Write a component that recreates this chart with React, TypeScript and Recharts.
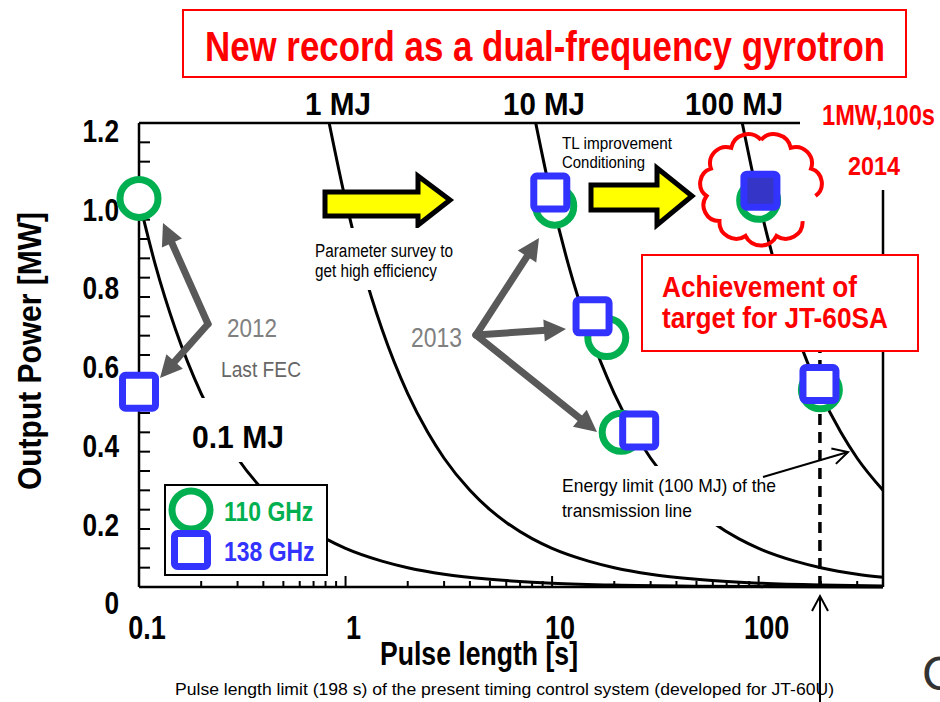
import React from "react";
import {
  ComposedChart,
  Line,
  Scatter,
  XAxis,
  YAxis,
  ReferenceLine,
  Legend,
} from "recharts";

// iso-energy lines, P [MW] against pulse length t [s]
const pulse01MJ = [0.1, 0.12, 0.15, 0.2, 0.25, 0.3, 0.4, 0.5, 0.6, 0.8, 1, 1.5, 2, 3, 5, 8, 10, 20, 50, 100, 200, 400];
const power01MJ = [1.0, 0.833, 0.667, 0.5, 0.4, 0.333, 0.25, 0.2, 0.167, 0.125, 0.1, 0.067, 0.05, 0.033, 0.02, 0.0125, 0.01, 0.005, 0.002, 0.001, 0.0005, 0.00025];

const pulse1MJ = [0.833, 1, 1.2, 1.5, 2, 2.5, 3, 4, 5, 6, 8, 10, 15, 20, 30, 50, 100, 200, 400];
const power1MJ = [1.2, 1.0, 0.833, 0.667, 0.5, 0.4, 0.333, 0.25, 0.2, 0.167, 0.125, 0.1, 0.067, 0.05, 0.033, 0.02, 0.01, 0.005, 0.0025];

const pulse10MJ = [8.33, 10, 12, 15, 20, 25, 30, 40, 50, 60, 80, 100, 150, 200, 300, 400];
const power10MJ = [1.2, 1.0, 0.833, 0.667, 0.5, 0.4, 0.333, 0.25, 0.2, 0.167, 0.125, 0.1, 0.067, 0.05, 0.033, 0.025];

const pulse100MJ = [83.3, 100, 120, 150, 200, 250, 300, 400];
const power100MJ = [1.2, 1.0, 0.833, 0.667, 0.5, 0.4, 0.333, 0.25];

// measured shots
const pulse110GHz = [0.1, 10.3, 18.4, 21.6, 100, 199];
const power110GHz = [1.005, 0.985, 0.645, 0.4, 1.0, 0.51];
const pulse138GHz = [0.1, 9.8, 15.7, 26.4, 197];
const power138GHz = [0.505, 1.02, 0.7, 0.405, 0.525];
const pulseRecord = [102];
const powerRecord = [1.025];

const pulseLimit = 198;

const pulseTicks = [0.1, 0.2, 0.3, 0.4, 0.5, 0.6, 0.7, 0.8, 0.9, 1, 2, 3, 4, 5, 6, 7, 8, 9, 10, 20, 30, 40, 50, 60, 70, 80, 90, 100, 200, 300];
const pulseLabelTicks = [0.1, 1, 10, 100];
const pulseLabels = ["0.1", "1", "10", "100"];

const powerTicks = [0, 0.05, 0.1, 0.15, 0.2, 0.25, 0.3, 0.35, 0.4, 0.45, 0.5, 0.55, 0.6, 0.65, 0.7, 0.75, 0.8, 0.85, 0.9, 0.95, 1.0, 1.05, 1.1, 1.15, 1.2];
const powerLabelTicks = [0, 0.2, 0.4, 0.6, 0.8, 1.0, 1.2];
const powerLabels = ["0", "0.2", "0.4", "0.6", "0.8", "1.0", "1.2"];

const FONT = "'Liberation Sans', Arial, sans-serif";
const GREEN = "#00b050";
const BLUE = "#3333ff";
const RED = "#ff0000";
const GRAY = "#595959";

const zip = (t: number[], p: number[]) => t.map((v, i) => ({ t: v, p: p[i] }));
const findLabel = (v: number, ticks: number[], labels: string[]) => {
  const i = ticks.findIndex((k) => Math.abs(k - v) < 1e-9);
  return i >= 0 ? labels[i] : null;
};

// squeezed Arial, to look like the Arial Narrow of the slide
const NText = ({ x, y, size, bold, fill = "#000", anchor = "start", sx = 0.82, children }: any) => (
  <text
    transform={`translate(${x},${y}) scale(${sx},1)`}
    textAnchor={anchor}
    fontFamily={FONT}
    fontWeight={bold ? "bold" : "normal"}
    fontSize={size}
    fill={fill}
  >
    {children}
  </text>
);

const BottomTick = (props: any) => {
  const { x, y, payload } = props;
  const label = findLabel(payload.value, pulseLabelTicks, pulseLabels);
  return (
    <g>
      <line x1={x} y1={y} x2={x} y2={y - (label ? 11 : 6)} stroke="#000" strokeWidth={2} />
      {label && (
        <NText x={x + 8} y={y + 52} size={33} bold anchor="middle">
          {label}
        </NText>
      )}
    </g>
  );
};

const TopTick = (props: any) => {
  const { x, y, payload } = props;
  const major = findLabel(payload.value, pulseLabelTicks, pulseLabels);
  return <line x1={x} y1={y} x2={x} y2={y + (major ? 11 : 6)} stroke="#000" strokeWidth={2} />;
};

const LeftTick = (props: any) => {
  const { x, y, payload } = props;
  const v = payload.value;
  const label = findLabel(v, powerLabelTicks, powerLabels);
  return (
    <g>
      <line x1={x} y1={y} x2={x + 11} y2={y} stroke="#000" strokeWidth={2} />
      {label && (
        <NText x={x - 20} y={y + 19 + (1.2 - v) * 7} size={32} bold anchor="end">
          {label}
        </NText>
      )}
    </g>
  );
};

const RightTick = (props: any) => {
  const { x, y } = props;
  return <line x1={x} y1={y} x2={x - 11} y2={y} stroke="#000" strokeWidth={2} />;
};

const Ring = (props: any) => {
  const { cx, cy } = props;
  return <circle cx={cx} cy={cy} r={19} fill="#fff" stroke={GREEN} strokeWidth={7} />;
};

const Box = (props: any) => {
  const { cx, cy } = props;
  return <rect x={cx - 16.5} y={cy - 16.5} width={33} height={33} rx={3} fill="#fff" stroke={BLUE} strokeWidth={7} />;
};

const FilledBox = (props: any) => {
  const { cx, cy } = props;
  return <rect x={cx - 16.5} y={cy - 16.5} width={33} height={33} rx={3} fill="#3535c8" stroke={BLUE} strokeWidth={7} />;
};

const LegendBox = (props: any) => {
  const items = (props.payload || []).filter((e: any) => e.type !== "none");
  return (
    <svg width={164} height={92} style={{ display: "block" }}>
      <rect x={1} y={1} width={162} height={90} fill="#fff" stroke="#000" strokeWidth={2} />
      {items.map((e: any, i: number) => {
        const cy = 26 + i * 40;
        return (
          <g key={e.value}>
            {i === 0 ? (
              <circle cx={27} cy={cy} r={19} fill="#fff" stroke={e.color} strokeWidth={7} />
            ) : (
              <rect x={10.5} y={cy - 16.5} width={33} height={33} rx={3} fill="#fff" stroke={e.color} strokeWidth={7} />
            )}
            <NText x={60} y={cy + 11} size={28} bold fill={e.color}>
              {e.value}
            </NText>
          </g>
        );
      })}
    </svg>
  );
};

const GrayArrow = ({ x1, y1, x2, y2 }: { x1: number; y1: number; x2: number; y2: number }) => {
  const L = Math.hypot(x2 - x1, y2 - y1);
  const ux = (x2 - x1) / L;
  const uy = (y2 - y1) / L;
  const bx = x2 - ux * 22;
  const by = y2 - uy * 22;
  const h = 11;
  return (
    <g>
      <line x1={x1} y1={y1} x2={bx + ux * 2} y2={by + uy * 2} stroke={GRAY} strokeWidth={7} strokeLinecap="round" />
      <polygon points={`${x2},${y2} ${bx - uy * h},${by + ux * h} ${bx + uy * h},${by - ux * h}`} fill={GRAY} />
    </g>
  );
};

const OpenArrow = ({ x1, y1, x2, y2 }: { x1: number; y1: number; x2: number; y2: number }) => {
  const L = Math.hypot(x2 - x1, y2 - y1);
  const ux = (x2 - x1) / L;
  const uy = (y2 - y1) / L;
  const bx = x2 - ux * 15;
  const by = y2 - uy * 15;
  const h = 8;
  return (
    <g stroke="#000" strokeWidth={2} fill="none">
      <line x1={x1} y1={y1} x2={x2} y2={y2} />
      <polyline points={`${bx - uy * h},${by + ux * h} ${x2},${y2} ${bx + uy * h},${by - ux * h}`} />
    </g>
  );
};

const cloudPath = (cx: number, cy: number, rx: number, ry: number, n: number, gap: number) => {
  const pts = Array.from({ length: n + 1 }, (_, i) => {
    const a = -Math.PI / 2 + (i * 2 * Math.PI) / n;
    return [cx + rx * Math.cos(a), cy + ry * Math.sin(a)];
  });
  let d = `M${pts[0][0]},${pts[0][1]}`;
  for (let i = 1; i <= n; i++) {
    const [x, y] = pts[i];
    const [px, py] = pts[i - 1];
    const r = Math.hypot(x - px, y - py) * 0.56;
    d += i === gap ? ` M${x},${y}` : ` A${r},${r} 0 0 1 ${x},${y}`;
  }
  return d;
};

const T = ({ x, y, size, bold, fill = "#000", w, children }: any) => (
  <text
    x={x}
    y={y}
    fontFamily={FONT}
    fontWeight={bold ? "bold" : "normal"}
    fontSize={size}
    fill={fill}
    textLength={w}
    lengthAdjust="spacingAndGlyphs"
  >
    {children}
  </text>
);

const Annotations = () => (
  <svg width={940} height={702} style={{ position: "absolute", left: 0, top: 0, pointerEvents: "none" }}>
    {/* title */}
    <rect x={183} y={10} width={723} height={67} fill="#fff" stroke={RED} strokeWidth={2} />
    <T x={205} y={61} size={42} bold fill={RED} w={680}>New record as a dual-frequency gyrotron</T>

    {/* energy line labels */}
    <T x={305} y={115} size={32} bold w={66}>1 MJ</T>
    <T x={503} y={115} size={32} bold w={82}>10 MJ</T>
    <T x={685} y={115} size={32} bold w={98}>100 MJ</T>
    <rect x={180} y={398} width={115} height={64} fill="#fff" />
    <T x={192} y={448} size={32} bold w={92}>0.1 MJ</T>

    {/* top-right corner note */}
    <rect x={800} y={90} width={140} height={100} fill="#fff" />
    <T x={822} y={125} size={29} bold fill={RED} w={113}>1MW,100s</T>
    <T x={848} y={175} size={26} bold fill={RED} w={52}>2014</T>

    {/* yellow progress arrows */}
    <polygon points="325,192 418,192 418,176 450,200 418,225 418,216 325,216" fill="#ffff00" stroke="#000" strokeWidth={5} />
    <polygon points="591,185 657,185 657,168 692,196 657,225 657,210 591,210" fill="#ffff00" stroke="#000" strokeWidth={5} />

    <rect x={310} y={228} width={150} height={62} fill="#fff" />
    <T x={315} y={257} size={18} w={138}>Parameter survey to</T>
    <T x={315} y={277} size={18} w={122}>get high efficiency</T>

    <T x={562} y={149} size={17} w={110}>TL improvement</T>
    <T x={562} y={168} size={17} w={83}>Conditioning</T>

    {/* 2012 */}
    <GrayArrow x1={208} y1={324} x2={163} y2={223} />
    <GrayArrow x1={208} y1={324} x2={160} y2={378} />
    <T x={227} y={337} size={26} fill="#808080" w={50}>2012</T>
    <T x={221} y={377} size={22} fill="#666" w={80}>Last FEC</T>

    {/* 2013 */}
    <GrayArrow x1={476} y1={335} x2={539} y2={238} />
    <GrayArrow x1={476} y1={335} x2={566} y2={329} />
    <GrayArrow x1={476} y1={335} x2={597} y2={432} />
    <T x={411} y={347} size={27} fill="#808080" w={51}>2013</T>

    {/* 2014 cloud */}
    <path d={cloudPath(761, 189, 55, 49, 11, 4)} fill="none" stroke={RED} strokeWidth={4} />

    {/* target box */}
    <rect x={642} y={255} width={276} height={96} fill="#fff" stroke={RED} strokeWidth={2} />
    <T x={662} y={297} size={29} bold fill={RED} w={195}>Achievement of</T>
    <T x={662} y={328} size={29} bold fill={RED} w={226}>target for JT-60SA</T>

    {/* transmission line limit */}
    <rect x={556} y={466} width={226} height={60} fill="#fff" />
    <T x={562} y={492} size={19} w={214}>Energy limit (100 MJ) of the</T>
    <T x={562} y={517} size={19} w={130}>transmission line</T>
    <OpenArrow x1={763} y1={477} x2={848} y2={452} />

    {/* timing system limit */}
    <OpenArrow x1={820} y1={702} x2={820} y2={596} />
    <T x={175} y={695} size={17} w={659}>
      Pulse length limit (198 s) of the present timing control system (developed for JT-60U)
    </T>

    {/* axis titles */}
    <T x={380} y={665} size={34} bold w={198}>Pulse length [s]</T>
    <text
      transform="translate(41,351) rotate(-90)"
      textAnchor="middle"
      fontFamily={FONT}
      fontWeight="bold"
      fontSize={34}
      textLength={278}
      lengthAdjust="spacingAndGlyphs"
    >
      Output Power [MW]
    </text>

    <text x={922} y={690} fontFamily={FONT} fontSize={48} fill="#333">C</text>
  </svg>
);

export default function App() {
  return (
    <div style={{ position: "absolute", left: 0, top: 0, width: 940, height: 702, background: "#fff", overflow: "hidden" }}>
      <ComposedChart width={940} height={702} margin={{ top: 122, right: 56, bottom: 114, left: 138 }}>
        <XAxis
          dataKey="t"
          type="number"
          scale="log"
          domain={[0.1, 400]}
          ticks={pulseTicks}
          interval={0}
          height={1}
          tickSize={0}
          tickMargin={0}
          tickLine={false}
          axisLine={{ stroke: "#000", strokeWidth: 2.5 }}
          tick={(p: any) => <BottomTick {...p} />}
        />
        <XAxis
          xAxisId="top"
          orientation="top"
          dataKey="t"
          type="number"
          scale="log"
          domain={[0.1, 400]}
          ticks={pulseTicks}
          interval={0}
          height={1}
          tickSize={0}
          tickMargin={0}
          tickLine={false}
          axisLine={{ stroke: "#000", strokeWidth: 2.5 }}
          tick={(p: any) => <TopTick {...p} />}
        />
        <YAxis
          type="number"
          domain={[0, 1.2]}
          ticks={powerTicks}
          interval={0}
          width={1}
          tickSize={0}
          tickMargin={0}
          tickLine={false}
          axisLine={{ stroke: "#000", strokeWidth: 2.5 }}
          tick={(p: any) => <LeftTick {...p} />}
        />
        <YAxis
          yAxisId="right"
          orientation="right"
          type="number"
          domain={[0, 1.2]}
          ticks={powerTicks}
          interval={0}
          width={1}
          tickSize={0}
          tickMargin={0}
          tickLine={false}
          axisLine={{ stroke: "#000", strokeWidth: 2.5 }}
          tick={(p: any) => <RightTick {...p} />}
        />

        <ReferenceLine
          segment={[{ x: pulseLimit, y: 0 }, { x: pulseLimit, y: 0.65 }]}
          stroke="#000"
          strokeWidth={3.5}
          strokeDasharray="11 7"
        />

        <Line data={zip(pulse01MJ, power01MJ)} dataKey="p" type="monotone" stroke="#000" strokeWidth={3} dot={false} legendType="none" isAnimationActive={false} />
        <Line data={zip(pulse1MJ, power1MJ)} dataKey="p" type="monotone" stroke="#000" strokeWidth={3} dot={false} legendType="none" isAnimationActive={false} />
        <Line data={zip(pulse10MJ, power10MJ)} dataKey="p" type="monotone" stroke="#000" strokeWidth={3} dot={false} legendType="none" isAnimationActive={false} />
        <Line data={zip(pulse100MJ, power100MJ)} dataKey="p" type="monotone" stroke="#000" strokeWidth={3} dot={false} legendType="none" isAnimationActive={false} />

        <Scatter name="110 GHz" data={zip(pulse110GHz, power110GHz)} dataKey="p" fill={GREEN} zIndex={3000} shape={(p: any) => <Ring {...p} />} isAnimationActive={false} />
        <Scatter name="138 GHz" data={zip(pulse138GHz, power138GHz)} dataKey="p" fill={BLUE} zIndex={3010} shape={(p: any) => <Box {...p} />} isAnimationActive={false} />
        <Scatter name="record" data={zip(pulseRecord, powerRecord)} dataKey="p" fill={BLUE} zIndex={3020} legendType="none" shape={(p: any) => <FilledBox {...p} />} isAnimationActive={false} />

        <Legend
          layout="vertical"
          align="center"
          verticalAlign="middle"
          content={(p: any) => <LegendBox {...p} />}
          wrapperStyle={{ left: 164, top: 484, width: 164, height: 92 }}
        />
      </ComposedChart>
      <Annotations />
    </div>
  );
}
